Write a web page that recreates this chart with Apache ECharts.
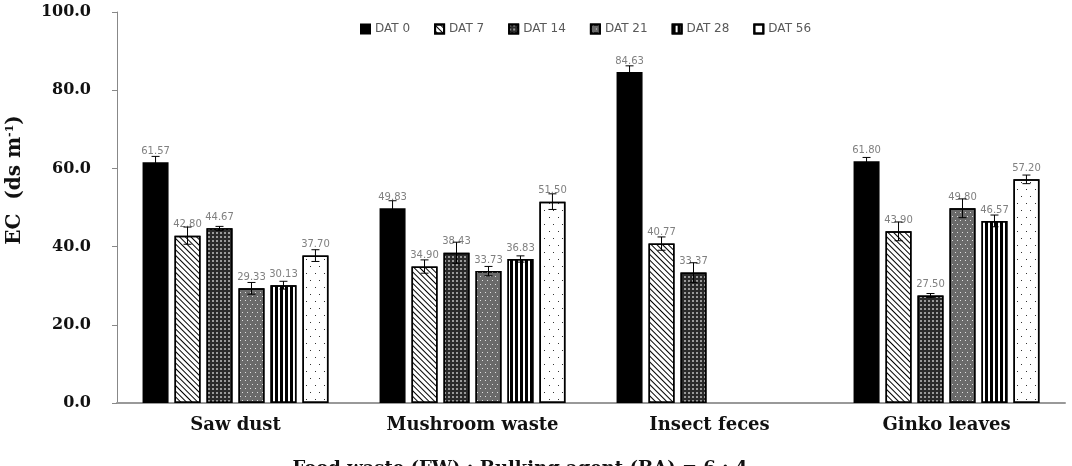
<!DOCTYPE html>
<html>
<head>
<meta charset="utf-8">
<script src="https://cdn.jsdelivr.net/npm/echarts@6/dist/echarts.min.js"></script>
<style>
  html, body { margin: 0; padding: 0; background: #fff; }
  #chart { width: 1072px; height: 466px; }
</style>
</head>
<body>
<div id="chart"></div>
<script>
(function() {
  // categories and series names
  const categories = ['Saw dust', 'Mushroom waste', 'Insect feces', 'Ginko leaves'];
  const seriesNames = ['DAT 0', 'DAT 7', 'DAT 14', 'DAT 21', 'DAT 28', 'DAT 56'];

  // EC values per series (one value per category), null = no bar
  const dat0 = [61.57, 49.83, 84.63, 61.80];
  const dat7 = [42.80, 34.90, 40.77, 43.90];
  const dat14 = [44.67, 38.43, 33.37, 27.50];
  const dat21 = [29.33, 33.73, null, 49.80];
  const dat28 = [30.13, 36.83, null, 46.57];
  const dat56 = [37.70, 51.50, null, 57.20];

  // error bar half-lengths
  const err0 = [1.5, 1.9, 1.6, 1.0];
  const err7 = [2.2, 1.7, 1.7, 2.4];
  const err14 = [0.5, 2.7, 2.5, 0.5];
  const err21 = [1.5, 1.2, null, 2.4];
  const err28 = [1.0, 0.8, null, 1.5];
  const err56 = [1.5, 2.0, null, 1.1];

  const values = [dat0, dat7, dat14, dat21, dat28, dat56];
  const errors = [err0, err7, err14, err21, err28, err56];

  const BAR_W = 26;
  const BAR_GAP = 0.23;
  const SERIF = 'DejaVu Serif';

  // fill + pattern per series
  const styles = [
    { color: '#000' },
    { color: '#fff', decal: { symbol: 'rect', color: '#000', dashArrayX: [1, 0], dashArrayY: [1, 3], rotation: Math.PI / 4 } },
    { color: '#2a2a2a', decal: { symbol: 'rect', color: '#9a9a9a', dashArrayX: [2, 2], dashArrayY: [2, 2] } },
    { color: '#6a6a6a', decal: { symbol: 'rect', color: '#e0e0e0', dashArrayX: [[1, 4], [0, 2, 1, 2]], dashArrayY: [1, 3] } },
    { color: '#fff', decal: { symbol: 'rect', color: '#000', dashArrayX: [3, 2], dashArrayY: [1, 0] } },
    { color: '#fff', decal: { symbol: 'rect', color: '#333', dashArrayX: [[1, 8], [0, 4, 1, 4]], dashArrayY: [1, 6] } }
  ];

  const barSeries = seriesNames.map((name, i) => ({
    name,
    type: 'bar',
    barWidth: BAR_W,
    barGap: (BAR_GAP * 100) + '%',
    data: values[i],
    itemStyle: Object.assign({ borderColor: '#000', borderWidth: 1.5 }, styles[i]),
    label: {
      show: true,
      position: 'top',
      distance: 6,
      color: '#808080',
      fontSize: 10,
      fontFamily: 'DejaVu Sans',
      formatter: p => (p.value == null ? '' : p.value.toFixed(2))
    }
  }));

  // error bar data: [category index, series index, value, error]
  const errData = [];
  values.forEach((arr, s) => {
    arr.forEach((v, c) => {
      if (v != null) errData.push([c, s, v, errors[s][c]]);
    });
  });

  const errSeries = {
    type: 'custom',
    name: 'err',
    z: 5,
    silent: true,
    data: errData,
    renderItem: (params, api) => {
      const c = api.value(0);
      const s = api.value(1);
      const v = api.value(2);
      const e = api.value(3);
      const step = BAR_W * (1 + BAR_GAP);
      const base = api.coord([c, v]);
      const x = base[0] + (s - 2.5) * step;
      const top = api.coord([c, v + e])[1];
      const bot = api.coord([c, v - e])[1];
      const lineStyle = { stroke: '#000', lineWidth: 1 };
      return {
        type: 'group',
        children: [
          { type: 'line', shape: { x1: x, y1: top, x2: x, y2: bot }, style: lineStyle },
          { type: 'line', shape: { x1: x - 4, y1: top, x2: x + 4, y2: top }, style: lineStyle },
          { type: 'line', shape: { x1: x - 4, y1: bot, x2: x + 4, y2: bot }, style: lineStyle }
        ]
      };
    }
  };

  const chart = echarts.init(document.getElementById('chart'));
  chart.setOption({
    animation: false,
    backgroundColor: '#fff',
    grid: { left: 117, right: 7, top: 12, bottom: 63, outerBoundsMode: 'none', containLabel: false },
    legend: {
      data: seriesNames,
      top: 18,
      left: 355,
      icon: 'rect',
      itemWidth: 9,
      itemHeight: 9,
      itemGap: 24,
      textStyle: { color: '#595959', fontSize: 12, fontFamily: 'DejaVu Sans' }
    },
    xAxis: {
      type: 'category',
      data: categories,
      axisLine: { lineStyle: { color: '#999', width: 2 } },
      axisTick: { show: false },
      axisLabel: { margin: 13, fontFamily: SERIF, fontWeight: 'bold', fontSize: 18, color: '#111' }
    },
    yAxis: {
      type: 'value',
      min: 0,
      max: 100,
      interval: 20,
      splitLine: { show: false },
      axisLine: { show: true, lineStyle: { color: '#888' } },
      axisTick: { show: true, length: 5, lineStyle: { color: '#888' } },
      axisLabel: {
        margin: 26,
        fontFamily: SERIF,
        fontWeight: 'bold',
        fontSize: 16,
        color: '#111',
        formatter: v => v.toFixed(1)
      }
    },
    graphic: [{
      type: 'text',
      x: 15,
      y: 180,
      rotation: Math.PI / 2,
      style: {
        text: '{a|EC  (ds m}{s|-1}{a|)}',
        align: 'center',
        verticalAlign: 'middle',
        rich: {
          a: { fontFamily: SERIF, fontWeight: 'bold', fontSize: 20, fill: '#111' },
          s: { fontFamily: SERIF, fontWeight: 'bold', fontSize: 11, fill: '#111', padding: [0, 0, 10, 0] }
        }
      }
    }, {
      type: 'text',
      x: 520,
      y: 460,
      style: {
        text: 'Food waste (FW) : Bulking agent (BA) = 6 : 4',
        align: 'center',
        verticalAlign: 'top',
        fontFamily: SERIF,
        fontWeight: 'bold',
        fontSize: 18,
        fill: '#111'
      }
    }],
    series: barSeries.concat([errSeries])
  });
})();
</script>
</body>
</html>
